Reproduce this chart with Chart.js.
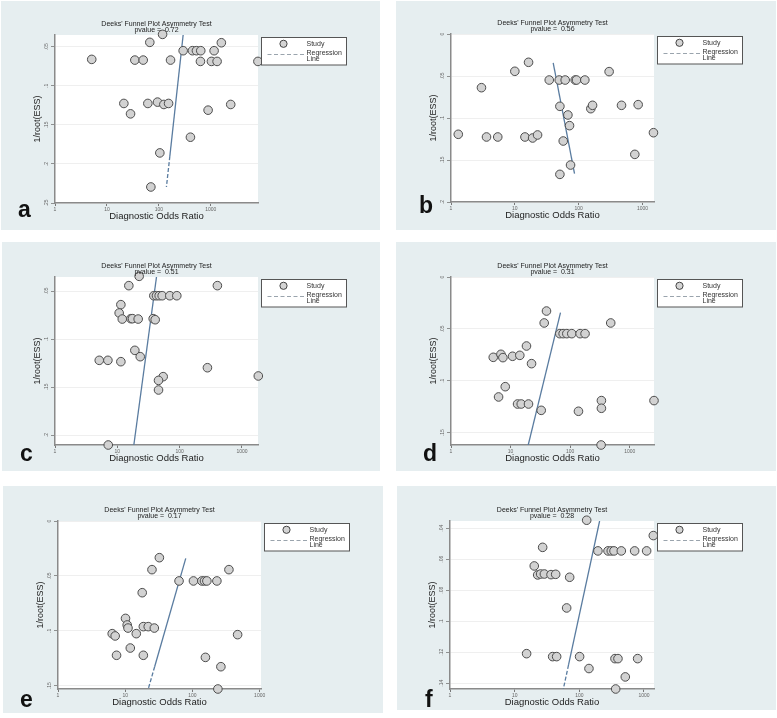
<!DOCTYPE html>
<html>
<head>
<meta charset="utf-8">
<title>Deeks' Funnel Plot Asymmetry Test</title>
<script src="https://cdn.jsdelivr.net/npm/chart.js@4.4.1/dist/chart.umd.min.js"></script>
<style>
  html, body { margin: 0; padding: 0; background: #fff; }
  body { width: 777px; height: 718px; position: relative; overflow: hidden; }
  .panel { position: absolute; background: #e6eef0; }
  .panel canvas { display: block; }
</style>
</head>
<body>
<script>
// ---- data ----
const xTickValues = [1, 10, 100, 1000];

// a
const aOR  = [5.1, 34.5, 50, 168, 67, 118, 294, 444, 530, 642, 1160, 1600, 633, 1030, 1324, 8100, 21.2, 61.4, 94.3, 125, 154, 28.5, 889, 2425, 406, 104.5, 70.2];
const aInv = [.0662, .0671, .0671, .0671, .0444, .0342, .0551, .0551, .0551, .0551, .0551, .0449, .0688, .0688, .0688, .0688, .1226, .1226, .1209, .1239, .1226, .1359, .1312, .1239, .1658, .1859, .2295];
const aRegOR  = [294, 163, 140];
const aRegInv = [.035, .19, .2295];
const aYTicks = [.05, .1, .15, .2, .25];
const aP = '0.72';

// b
const bOR  = [1.3, 3.0, 3.6, 5.4, 10.0, 14.4, 16.4, 19.0, 22.7, 34.6, 49.6, 50.8, 61.5, 57.3, 67.8, 71.9, 74.6, 50.8, 88.3, 92.6, 125, 155, 165, 300, 469, 758, 855, 1485];
const bInv = [.1194, .0639, .1226, .1226, .0444, .1226, .0337, .1238, .1202, .0548, .0548, .0861, .0548, .1274, .0964, .1091, .1560, .1671, .0548, .0548, .0548, .0889, .0849, .0448, .0849, .1433, .0841, .1175];
const bRegOR  = [39.9, 86.1];
const bRegInv = [.0345, .1663];
const bYTicks = [0, .05, .1, .15, .2];
const bP = '0.56';

// c
const cOR  = [22.4, 15.3, 403, 38.5, 42.5, 46.9, 52.4, 69.5, 90.0, 11.4, 10.7, 12.0, 16.5, 17.5, 21.6, 37.6, 40.5, 19.1, 23.3, 5.13, 7.06, 11.4, 279, 1828, 54.4, 45.8, 45.8, 7.15];
const cInv = [.0347, .0444, .0444, .0549, .0549, .0549, .0549, .0549, .0549, .0642, .0729, .0792, .0788, .0788, .0792, .0788, .0799, .1118, .1184, .1222, .1222, .1236, .1299, .1385, .1392, .1431, .1531, .2104];
const cRegOR  = [42.5, 18.4];
const cRegInv = [.0354, .2104];
const cYTicks = [.05, .1, .15, .2];
const cP = '0.51';

// d
const dOR  = [40.1, 36.7, 480, 67.1, 76.3, 88.0, 106.6, 147, 178, 18.5, 5.12, 6.89, 7.44, 10.8, 14.3, 22.5, 8.14, 6.29, 13.1, 15.1, 20.0, 32.7, 138, 335, 335, 2558, 331];
const dInv = [.0328, .0443, .0443, .0546, .0546, .0546, .0546, .0546, .0546, .0665, .0774, .0745, .0777, .0764, .0755, .0835, .1057, .1156, .1224, .1224, .1224, .1285, .1294, .1191, .1265, .1191, .1619];
const dRegOR  = [68.9, 19.8];
const dRegInv = [.0344, .1619];
const dYTicks = [0, .05, .1, .15];
const dP = '0.31';

// e
const eOR  = [32.2, 25.0, 349, 63.2, 103.5, 138, 151, 164, 231, 17.9, 10.1, 10.7, 11.0, 18.6, 22.0, 27.1, 6.40, 7.09, 14.6, 470, 11.9, 7.43, 18.6, 156, 265, 239];
const eInv = [.0334, .0443, .0443, .0546, .0546, .0546, .0546, .0546, .0546, .0653, .0887, .0947, .0975, .0962, .0962, .0975, .1026, .1047, .1026, .1035, .1157, .1223, .1223, .1242, .1327, .1530];
const eRegOR  = [79.5, 27.4, 22.0];
const eRegInv = [.034, .1327, .153];
const eYTicks = [0, .05, .1, .15];
const eP = '0.17';

// f
const fOR  = [130, 1394, 27.1, 194, 278, 312, 344, 446, 717, 1099, 20.1, 22.7, 25.2, 28.8, 36.5, 43.1, 70.9, 63.7, 15.3, 38.7, 44.6, 101, 356, 396, 798, 141, 514, 365];
const fInv = [.0348, .0447, .0523, .0546, .0546, .0546, .0546, .0546, .0546, .0546, .0643, .0701, .0695, .0695, .0699, .0697, .0716, .0914, .1209, .1228, .1228, .1228, .1241, .1241, .1241, .1305, .1359, .1437];
const fRegOR  = [206, 68.1, 56.6];
const fRegInv = [.0353, .1282, .1437];
const fYTicks = [.04, .06, .08, .1, .12, .14];
const fP = '0.28';

// ---- panel layout (box = panel rect on page, area = plot rect inside it) ----
const panels = [
  { letter: 'a', box: [1, 1, 379, 229],   area: [54, 34, 257, 202], xMax: 8128, yMin: .035,  yMax: .25,   yTicks: aYTicks, or: aOR, inv: aInv, regOR: aRegOR, regInv: aRegInv, p: aP, letterAt: [-37, 14] },
  { letter: 'b', box: [396, 1, 380, 229], area: [55, 33, 258, 201], xMax: 1514, yMin: 0,     yMax: .2,    yTicks: bYTicks, or: bOR, inv: bInv, regOR: bRegOR, regInv: bRegInv, p: bP, letterAt: [-32, 11] },
  { letter: 'c', box: [2, 242, 378, 229], area: [53, 35, 256, 203], xMax: 1807, yMin: .0354, yMax: .2104, yTicks: cYTicks, or: cOR, inv: cInv, regOR: cRegOR, regInv: cRegInv, p: cP, letterAt: [-35, 16] },
  { letter: 'd', box: [396, 242, 380, 229], area: [55, 35, 258, 203], xMax: 2558, yMin: 0,   yMax: .1619, yTicks: dYTicks, or: dOR, inv: dInv, regOR: dRegOR, regInv: dRegInv, p: dP, letterAt: [-28, 16] },
  { letter: 'e', box: [3, 486, 380, 227], area: [55, 35, 258, 203], xMax: 1047, yMin: 0,     yMax: .153,  yTicks: eYTicks, or: eOR, inv: eInv, regOR: eRegOR, regInv: eRegInv, p: eP, letterAt: [-38, 18] },
  { letter: 'f', box: [397, 486, 379, 224], area: [53, 35, 257, 203], xMax: 1429, yMin: .0353, yMax: .1437, yTicks: fYTicks, or: fOR, inv: fInv, regOR: fRegOR, regInv: fRegInv, p: fP, letterAt: [-25, 18] }
];

const FONT = "'Liberation Sans', Arial, Helvetica, sans-serif";
Chart.defaults.font.family = FONT;

const Y_AXIS_W = 26;
const X_AXIS_H = 20;

// stata-ish tick text: 0, .05, .1 ...
const fmtY = v => v === 0 ? '0' : String(+v.toFixed(3)).replace(/^0\./, '.');

// white plot region, like stata's plotregion
const plotBgPlugin = {
  id: 'plotBg',
  beforeDraw(chart) {
    const { ctx, chartArea: ca } = chart;
    ctx.save();
    ctx.fillStyle = '#fff';
    ctx.fillRect(ca.left, ca.top, ca.right - ca.left, ca.bottom - ca.top);
    ctx.restore();
  }
};

// title, boxed legend and panel letter
const decorPlugin = {
  id: 'decor',
  afterDraw(chart, args, opts) {
    const { ctx, chartArea: ca } = chart;
    ctx.save();
    ctx.fillStyle = '#222';
    ctx.font = `7px ${FONT}`;
    ctx.textAlign = 'center';
    ctx.textBaseline = 'middle';
    const cx = (ca.left + ca.right) / 2;
    ctx.fillText("Deeks' Funnel Plot Asymmetry Test", cx, ca.top - 11);
    ctx.fillText('pvalue =  ' + opts.pvalue, cx, ca.top - 5);

    // legend box
    const bx = ca.right + 3.5, by = ca.top + 2.5, bw = 85, bh = 27.5;
    ctx.fillStyle = '#fff';
    ctx.fillRect(bx, by, bw, bh);
    ctx.strokeStyle = '#555';
    ctx.lineWidth = 1;
    ctx.strokeRect(bx, by, bw, bh);
    ctx.beginPath();
    ctx.arc(bx + 22, by + 6.3, 3.6, 0, Math.PI * 2);
    ctx.fillStyle = '#d4d4d4';
    ctx.fill();
    ctx.strokeStyle = '#444';
    ctx.stroke();
    ctx.beginPath();
    ctx.setLineDash([4, 2.5]);
    ctx.strokeStyle = '#9aa4ad';
    ctx.moveTo(bx + 6, by + 17);
    ctx.lineTo(bx + 43, by + 17);
    ctx.stroke();
    ctx.setLineDash([]);
    ctx.fillStyle = '#333';
    ctx.textAlign = 'left';
    ctx.font = `7px ${FONT}`;
    ctx.fillText('Study', bx + 45, by + 6.3);
    ctx.fillText('Regression', bx + 45, by + 15.3);
    ctx.fillText('Line', bx + 45, by + 22);

    // panel letter
    ctx.fillStyle = '#111';
    ctx.font = `bold 23px ${FONT}`;
    ctx.textBaseline = 'alphabetic';
    ctx.fillText(opts.letter, ca.left + opts.letterAt[0], ca.bottom + opts.letterAt[1]);
    ctx.restore();
  }
};

panels.forEach(p => {
  const [left, top, w, h] = p.box;
  const [al, at, ar, ab] = p.area;
  const div = document.createElement('div');
  div.className = 'panel';
  div.style.left = left + 'px';
  div.style.top = top + 'px';
  div.style.width = w + 'px';
  div.style.height = h + 'px';
  const canvas = document.createElement('canvas');
  canvas.width = w;
  canvas.height = h;
  canvas.style.width = w + 'px';
  canvas.style.height = h + 'px';
  div.appendChild(canvas);
  document.body.appendChild(div);

  new Chart(canvas.getContext('2d'), {
    type: 'scatter',
    data: {
      datasets: [{
        label: 'Study',
        data: p.or.map((x, i) => ({ x, y: p.inv[i] })),
        pointRadius: 4.3,
        pointHoverRadius: 4.3,
        pointBackgroundColor: '#d2d2d2',
        pointBorderColor: '#4d4d4d',
        pointBorderWidth: 1,
        clip: false
      }, {
        label: 'Regression Line',
        data: p.regOR.map((x, i) => ({ x, y: p.regInv[i] })),
        showLine: true,
        pointRadius: 0,
        borderColor: '#5a7ca0',
        borderWidth: 1.3,
        segment: { borderDash: ctx => ctx.p0DataIndex >= 1 ? [4, 2] : undefined }
      }]
    },
    options: {
      responsive: false,
      animation: false,
      events: [],
      layout: { padding: { left: al - Y_AXIS_W, top: at, right: w - ar, bottom: h - ab - X_AXIS_H } },
      plugins: {
        legend: { display: false },
        title: { display: false },
        tooltip: { enabled: false },
        decor: { letter: p.letter, pvalue: p.p, letterAt: p.letterAt }
      },
      scales: {
        x: {
          type: 'logarithmic',
          min: 1,
          max: p.xMax,
          afterBuildTicks: s => { s.ticks = xTickValues.map(v => ({ value: v })); },
          afterFit: s => { s.height = X_AXIS_H; },
          ticks: { font: { size: 5 }, color: '#666', padding: 1, maxRotation: 0, autoSkip: false, callback: v => String(v) },
          grid: { drawOnChartArea: false, tickLength: 3, tickColor: '#777' },
          border: { color: '#8a8a8a', width: 1.5 },
          title: { display: true, text: 'Diagnostic Odds Ratio', font: { size: 9.5 }, color: '#222', padding: { top: 0, bottom: 1 } }
        },
        y: {
          type: 'linear',
          reverse: true,
          min: p.yMin,
          max: p.yMax,
          afterBuildTicks: s => { s.ticks = p.yTicks.map(v => ({ value: v })); },
          afterFit: s => { s.width = Y_AXIS_W; },
          ticks: { font: { size: 5 }, color: '#666', padding: 1, minRotation: 90, maxRotation: 90, crossAlign: 'center', autoSkip: false, callback: v => fmtY(v) },
          grid: { color: '#ebebeb', lineWidth: 0.8, tickLength: 4, tickColor: '#777' },
          border: { color: '#8a8a8a', width: 1.5 },
          title: { display: true, text: '1/root(ESS)', font: { size: 9 }, color: '#222', padding: { top: 3, bottom: 0 } }
        }
      }
    },
    plugins: [plotBgPlugin, decorPlugin]
  });
});
</script>
</body>
</html>
